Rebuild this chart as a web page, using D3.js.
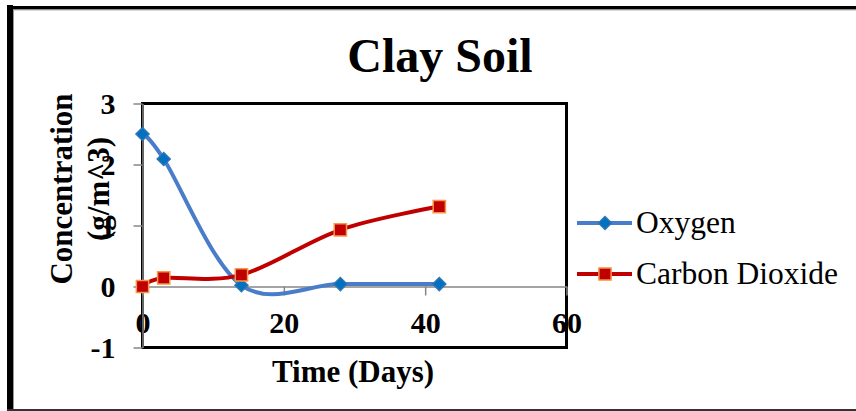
<!DOCTYPE html>
<html lang="en">
<head>
<meta charset="utf-8">
<title>Clay Soil</title>
<script src="https://d3js.org/d3.v7.min.js"></script>
<style type="text/css">
  body { margin: 0; background: #fff; }
  text { font-family: "Liberation Serif", "Times New Roman", serif; }
</style>
</head>
<body>
<script type="text/javascript">

  // data
  var days = [0, 3, 14, 28, 42];
  var oxygen = [2.5, 2.09, 0.02, 0.04, 0.04];
  var carbonDioxide = [0.0, 0.14, 0.19, 0.93, 1.31];
  var xTicks = [0, 20, 40, 60];
  var yTicks = [-1, 0, 1, 2, 3];
  var seriesNames = ["Oxygen", "Carbon Dioxide"];

  var W = 856, H = 411;
  var plot = {left: 142.5, right: 566.5, top: 103.5, bottom: 347.5};

  var svg = d3.select("body").append("svg")
    .attr("width", W)
    .attr("height", H);

  // outer chart border (right side runs off the picture)
  svg.append("line").attr("x1", 10).attr("x2", 10).attr("y1", 5).attr("y2", 411)
    .attr("stroke", "#000").attr("stroke-width", 6);
  svg.append("line").attr("x1", 7).attr("x2", 860).attr("y1", 7.7).attr("y2", 7.7)
    .attr("stroke", "#000").attr("stroke-width", 3.5);
  svg.append("line").attr("x1", 13.5).attr("x2", 860).attr("y1", 9.9).attr("y2", 9.9)
    .attr("stroke", "#999").attr("stroke-width", 1);
  svg.append("line").attr("x1", 13.5).attr("x2", 13.5).attr("y1", 9.5).attr("y2", 409)
    .attr("stroke", "#999").attr("stroke-width", 1);
  svg.append("line").attr("x1", 7).attr("x2", 860).attr("y1", 410).attr("y2", 410)
    .attr("stroke", "#333").attr("stroke-width", 2);

  // scales
  var xScale = d3.scaleLinear().domain([0, 60]).range([plot.left, plot.right]);
  var yScale = d3.scaleLinear().domain([-1, 3]).range([plot.bottom, plot.top]);

  // plot area frame
  svg.append("rect")
    .attr("x", plot.left).attr("y", plot.top)
    .attr("width", plot.right - plot.left)
    .attr("height", plot.bottom - plot.top)
    .attr("fill", "none")
    .attr("stroke", "#000")
    .attr("stroke-width", 3);

  // axes
  var plain = function(d) { return String(d); };
  var xAxis = d3.axisBottom(xScale).tickValues(xTicks).tickFormat(plain)
    .tickSize(9).tickPadding(16).tickSizeOuter(0);
  var xAxisGroup = svg.append("g")
    .attr("transform", "translate(0," + yScale(0) + ")")
    .call(xAxis);

  var yAxis = d3.axisLeft(yScale).tickValues(yTicks).tickFormat(plain)
    .tickSize(9).tickPadding(18).tickSizeOuter(0);
  var yAxisGroup = svg.append("g")
    .attr("transform", "translate(" + plot.left + ",0)")
    .call(yAxis);

  [xAxisGroup, yAxisGroup].forEach(function(g) {
    g.selectAll("path.domain").attr("stroke", "#868686").attr("stroke-width", 1.5);
    g.selectAll(".tick line").attr("stroke", "#868686").attr("stroke-width", 1.5);
    g.selectAll(".tick text")
      .attr("fill", "#000")
      .attr("font-family", "Liberation Serif")
      .attr("font-weight", "bold")
      .attr("font-size", "30px");
  });

  // series
  var series = [
    {name: seriesNames[0], values: oxygen, line: "#4a7dc9", fill: "#0070c0", edge: "#2e75b6",
     symbol: d3.symbolSquare, size: 85, rot: 45},
    {name: seriesNames[1], values: carbonDioxide, line: "#c00000", fill: "#c00000", edge: "#f79646",
     symbol: d3.symbolSquare, size: 150, rot: 0}
  ];

  var lineGen = d3.line()
    .x(function(d) { return xScale(d[0]); })
    .y(function(d) { return yScale(d[1]); })
    .curve(d3.curveCatmullRom.alpha(0));

  series.forEach(function(s) {
    var pts = days.map(function(d, i) { return [d, s.values[i]]; });
    svg.append("path")
      .datum(pts)
      .attr("d", lineGen)
      .attr("fill", "none")
      .attr("stroke", s.line)
      .attr("stroke-width", 4)
      .attr("stroke-linecap", "round");
  });

  series.forEach(function(s) {
    var pts = days.map(function(d, i) { return [d, s.values[i]]; });
    svg.selectAll(null)
      .data(pts)
      .enter()
      .append("path")
      .attr("d", d3.symbol(s.symbol, s.size))
      .attr("transform", function(d) {
        return "translate(" + xScale(d[0]) + "," + yScale(d[1]) + ") rotate(" + s.rot + ")";
      })
      .attr("fill", s.fill)
      .attr("stroke", s.edge)
      .attr("stroke-width", 1.5);
  });

  // legend
  var legend = svg.selectAll("g.legend")
    .data(series)
    .enter()
    .append("g")
    .attr("class", "legend")
    .attr("transform", function(d, i) { return "translate(0," + (223 + i * 51) + ")"; });

  legend.append("line")
    .attr("x1", 577).attr("x2", 632).attr("y1", 0).attr("y2", 0)
    .attr("stroke", function(d) { return d.line; })
    .attr("stroke-width", 4);
  legend.append("path")
    .attr("d", function(d) { return d3.symbol(d.symbol, d.size)(); })
    .attr("transform", function(d) { return "translate(605,0) rotate(" + d.rot + ")"; })
    .attr("fill", function(d) { return d.fill; })
    .attr("stroke", function(d) { return d.edge; })
    .attr("stroke-width", 1.5);
  legend.append("text")
    .attr("x", 636)
    .attr("y", 10)
    .attr("font-size", "31.5px")
    .attr("fill", "#000")
    .text(function(d) { return d.name; });

  // titles
  svg.append("text")
    .attr("x", 440).attr("y", 72)
    .attr("text-anchor", "middle")
    .attr("font-size", "48px")
    .attr("font-weight", "bold")
    .text("Clay Soil");

  svg.append("text")
    .attr("x", 353).attr("y", 382)
    .attr("text-anchor", "middle")
    .attr("font-size", "31px")
    .attr("font-weight", "bold")
    .text("Time (Days)");

  var yTitle = ["Concentration", "(g/m^3)"];
  svg.selectAll("text.ytitle")
    .data(yTitle)
    .enter()
    .append("text")
    .attr("class", "ytitle")
    .attr("transform", function(d, i) { return "translate(" + (72 + i * 37) + ",189) rotate(-90)"; })
    .attr("text-anchor", "middle")
    .attr("font-size", "31px")
    .attr("font-weight", "bold")
    .text(function(d) { return d; });

</script>
</body>
</html>
